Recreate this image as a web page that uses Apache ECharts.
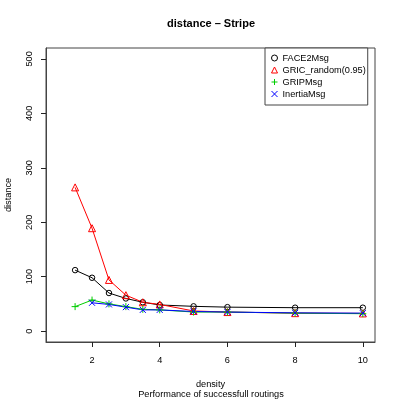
<!DOCTYPE html>
<html>
<head>
<meta charset="utf-8">
<script src="https://cdn.jsdelivr.net/npm/echarts@6/dist/echarts.min.js"></script>
<style>
html, body { margin: 0; padding: 0; background: #fff; }
#chart { width: 399px; height: 400px; }
</style>
</head>
<body>
<div id="chart"></div>
<script>
var density = [1.5, 2, 2.5, 3, 3.5, 4, 5, 6, 8, 10];
var face2Msg = [112, 98, 70, 60, 53, 48, 45.5, 44, 43, 43];
var gricRandom = [264, 189, 94, 66, 53, 49, 37, 35, 33, 32.5];
var gripMsg = [45, 57, 50, 45, 40, 39, 35, 35, 33, 32];
var inertiaMsg = [null, 52, 49, 44, 39, 39, 36, 35, 33.5, 33];

var xTicks = [2, 4, 6, 8, 10];
var yTicks = [0, 100, 200, 300, 400, 500];

var seriesNames = ['FACE2Msg', 'GRIC_random(0.95)', 'GRIPMsg', 'InertiaMsg'];
var seriesColors = ['#000000', '#ff0000', '#00cd00', '#0000ff'];

var FONT = 'Liberation Sans, Arial, sans-serif';
var plusPath = 'path://M5,0L5,10M0,5L10,5';
var crossPath = 'path://M0,0L10,10M10,0L0,10';
var symbols = ['circle', 'triangle', plusPath, crossPath];
var symbolSizes = [5.5, 7, 7, 6];

function pairs(values) {
    var out = [];
    for (var i = 0; i < density.length; i++) {
        out.push([density[i], values[i]]);
    }
    return out;
}

var allValues = [face2Msg, gricRandom, gripMsg, inertiaMsg];
var series = [];
var legendData = [];

for (var i = 0; i < seriesNames.length; i++) {
    series.push({
        name: seriesNames[i],
        type: 'line',
        data: pairs(allValues[i]),
        symbol: symbols[i],
        symbolSize: symbolSizes[i],
        showAllSymbol: true,
        itemStyle: {
            color: 'transparent',
            borderColor: seriesColors[i],
            borderWidth: 1
        },
        lineStyle: {
            color: seriesColors[i],
            width: 1
        },
        emphasis: { disabled: true },
        animation: false
    });
    legendData.push({
        name: seriesNames[i],
        icon: symbols[i],
        itemStyle: {
            color: 'transparent',
            borderColor: seriesColors[i],
            borderWidth: 1
        }
    });
}

var chart = echarts.init(document.getElementById('chart'));

var option = {
    backgroundColor: '#fff',
    animation: false,
    grid: {
        left: 46,
        right: 24,
        top: 48,
        bottom: 58,
        containLabel: false,
        outerBoundsMode: 'none',
        show: true,
        borderColor: '#444',
        borderWidth: 1
    },
    legend: {
        orient: 'vertical',
        left: 265,
        top: 48,
        data: legendData,
        itemWidth: 6,
        itemHeight: 6,
        itemGap: 2,
        itemTextGap: 11,
        padding: [5, 2, 6, 6],
        borderColor: '#444',
        borderWidth: 1,
        backgroundColor: '#fff',
        selectedMode: false,
        textStyle: {
            fontFamily: FONT,
            fontSize: 9.2,
            color: '#000',
            lineHeight: 10
        }
    },
    xAxis: {
        type: 'value',
        min: 0.64,
        max: 10.36,
        name: 'density',
        nameLocation: 'middle',
        nameGap: 38,
        nameTextStyle: { fontFamily: FONT, fontSize: 9.2, color: '#000' },
        axisLine: { show: true, onZero: false, lineStyle: { color: '#444' } },
        splitLine: { show: false },
        axisTick: {
            show: true,
            inside: false,
            customValues: xTicks,
            length: 5,
            lineStyle: { color: '#222', width: 1 }
        },
        axisLabel: {
            customValues: xTicks,
            margin: 14,
            fontFamily: FONT,
            fontSize: 9.2,
            color: '#000'
        }
    },
    yAxis: {
        type: 'value',
        min: -20,
        max: 520,
        name: 'distance',
        nameLocation: 'middle',
        nameGap: 33,
        nameTextStyle: { fontFamily: FONT, fontSize: 9.2, color: '#000' },
        axisLine: { show: true, onZero: false, lineStyle: { color: '#444' } },
        splitLine: { show: false },
        axisTick: {
            show: true,
            inside: false,
            customValues: yTicks,
            length: 5,
            lineStyle: { color: '#222', width: 1 }
        },
        axisLabel: {
            customValues: yTicks,
            rotate: 90,
            margin: 12,
            fontFamily: FONT,
            fontSize: 9.2,
            color: '#000'
        }
    },
    graphic: [{
        type: 'text',
        x: 211,
        y: 24,
        style: {
            text: 'distance \u2013 Stripe',
            fontFamily: FONT,
            fontSize: 11,
            fontWeight: 'bold',
            fill: '#000',
            textAlign: 'center',
            textVerticalAlign: 'middle'
        }
    }, {
        type: 'text',
        x: 211,
        y: 394,
        style: {
            text: 'Performance of successfull routings',
            fontFamily: FONT,
            fontSize: 9.2,
            fill: '#000',
            textAlign: 'center',
            textVerticalAlign: 'middle'
        }
    }],
    series: series
};

chart.setOption(option);
</script>
</body>
</html>
